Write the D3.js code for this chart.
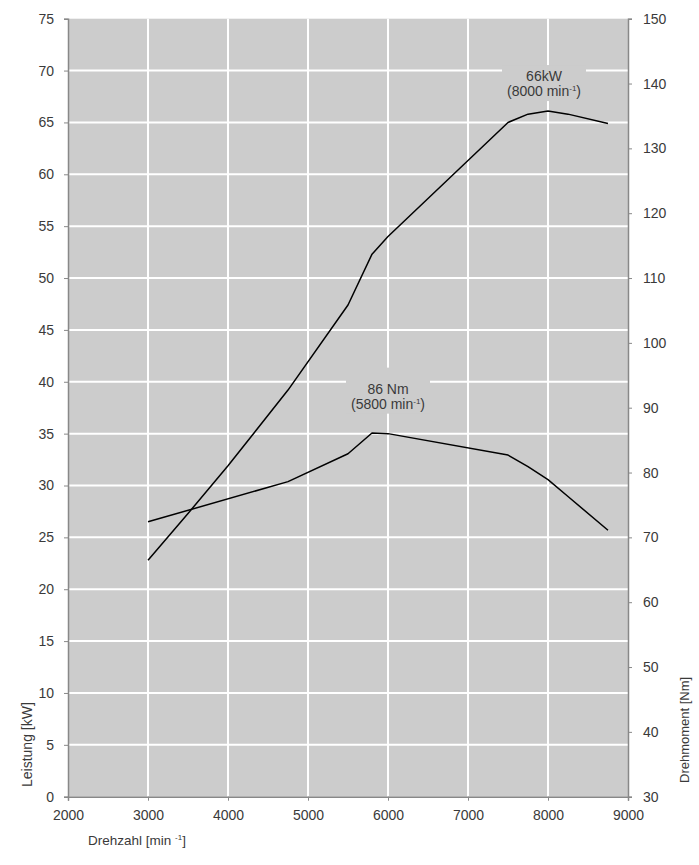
<!DOCTYPE html>
<html>
<head>
<meta charset="utf-8">
<script src="https://cdn.jsdelivr.net/npm/d3@7"></script>
<style>
  html, body { margin: 0; padding: 0; background: #fff; }
  svg text { font-family: "Liberation Sans", Arial, sans-serif; fill: #3a3a3a; }
</style>
</head>
<body>
<svg id="chart" width="699" height="865"></svg>
<script>
// ---- data ----
const powerRpm = [3000, 3500, 4000, 4750, 5500, 5800, 6000, 7500, 7750, 8000, 8250, 8750];
const powerKW  = [22.8, 27.3, 31.9, 39.2, 47.4, 52.3, 54.0, 65.0, 65.8, 66.1, 65.8, 64.9];
const torqueRpm = [3000, 4750, 5500, 5800, 6000, 7500, 7750, 8000, 8250, 8750];
const torqueNm  = [72.4, 78.6, 82.9, 86.1, 86.0, 82.7, 80.9, 78.9, 76.3, 71.1];
const xTicks = [2000, 3000, 4000, 5000, 6000, 7000, 8000, 9000];
const leftTicks = [0, 5, 10, 15, 20, 25, 30, 35, 40, 45, 50, 55, 60, 65, 70, 75];
const rightTicks = [30, 40, 50, 60, 70, 80, 90, 100, 110, 120, 130, 140, 150];
const xLabel = "Drehzahl";
const leftLabel = "Leistung [kW]";
const rightLabel = "Drehmoment [Nm]";
const powerPeak = { rpm: 8000, value: 66, line1: "66kW", rpmText: "8000" };
const torquePeak = { rpm: 5800, value: 86, line1: "86 Nm", rpmText: "5800" };

// ---- layout ----
const L = 68, R = 628, T = 18.7, B = 796.7;
const svg = d3.select("#chart");
const x = d3.scaleLinear().domain([2000, 9000]).range([L, R]);
const yL = d3.scaleLinear().domain([0, 75]).range([B, T]);
const yR = d3.scaleLinear().domain([30, 150]).range([B, T]);

// background
svg.append("rect").attr("x", L).attr("y", T).attr("width", R - L).attr("height", B - T).attr("fill", "#cccccc");

// grid
const grid = svg.append("g").attr("stroke", "#fff").attr("stroke-width", 2);
grid.selectAll("line.v").data(xTicks.filter(d => d > 2000 && d < 9000)).join("line")
  .attr("x1", d => x(d)).attr("x2", d => x(d)).attr("y1", T).attr("y2", B);
grid.selectAll("line.h").data(leftTicks.filter(d => d > 0 && d < 75)).join("line")
  .attr("y1", d => yL(d)).attr("y2", d => yL(d)).attr("x1", L).attr("x2", R);

// annotation backgrounds (cover gridlines)
function annot(peak, yScale, dxC, yTop, h, w) {
  const cx = x(peak.rpm) + dxC;
  const py = yScale(peak.value);
  const g = svg.append("g");
  g.append("rect").attr("x", cx - w / 2).attr("y", py - yTop).attr("width", w).attr("height", h).attr("fill", "#cccccc");
  return { g, cx, py };
}
const a1 = annot(powerPeak, yL, -4, 47, 36, 84);
const a2 = annot(torquePeak, yR, 16, 66, 46, 84);

// lines
const line = d3.line().x(d => x(d[0])).y(d => d[1]);
svg.append("path")
  .datum(powerRpm.map((r, i) => [r, yL(powerKW[i])]))
  .attr("d", line).attr("fill", "none").attr("stroke", "#000").attr("stroke-width", 1.5).attr("stroke-linejoin", "round");
svg.append("path")
  .datum(torqueRpm.map((r, i) => [r, yR(torqueNm[i])]))
  .attr("d", line).attr("fill", "none").attr("stroke", "#000").attr("stroke-width", 1.5).attr("stroke-linejoin", "round");

// annotation texts
function annotText(a, peak, b1, b2) {
  a.g.append("text").attr("x", a.cx).attr("y", a.py - b1).attr("text-anchor", "middle")
    .attr("font-size", 14).text(peak.line1);
  const t = a.g.append("text").attr("x", a.cx).attr("y", a.py - b2).attr("text-anchor", "middle").attr("font-size", 14);
  t.append("tspan").text("(" + peak.rpmText + " min");
  t.append("tspan").attr("font-size", 8).attr("dy", -5).text("-1");
  t.append("tspan").attr("dy", 5).text(")");
}
annotText(a1, powerPeak, 31, 16);
annotText(a2, torquePeak, 39.5, 24.5);

// axes
const axisColor = "#888";
const gx = svg.append("g").attr("transform", `translate(0,${B})`)
  .call(d3.axisBottom(x).tickValues(xTicks).tickFormat(d3.format("d")).tickSize(4).tickPadding(9));
const gl = svg.append("g").attr("transform", `translate(${L},0)`)
  .call(d3.axisLeft(yL).tickValues(leftTicks).tickFormat(d3.format("d")).tickSize(4).tickPadding(10));
const gr = svg.append("g").attr("transform", `translate(${R},0)`)
  .call(d3.axisRight(yR).tickValues(rightTicks).tickFormat(d3.format("d")).tickSize(4).tickPadding(11));
[gx, gl, gr].forEach(g => {
  g.selectAll("path.domain").attr("stroke", axisColor).attr("stroke-width", 1.5);
  g.selectAll(".tick line").attr("stroke", axisColor).attr("stroke-width", 1);
  g.selectAll(".tick text").attr("font-size", 14).attr("fill", "#3a3a3a")
    .style("font-family", '"Liberation Sans", Arial, sans-serif');
});

// axis titles
const xt = svg.append("text").attr("x", 88).attr("y", 845).attr("font-size", 13.5);
xt.append("tspan").text(xLabel + " [min ");
xt.append("tspan").attr("font-size", 8).attr("dy", -5).text("-1");
xt.append("tspan").attr("dy", 5).text("]");

svg.append("text").attr("transform", "translate(32,787) rotate(-90)").attr("font-size", 14).text(leftLabel);
svg.append("text").attr("transform", "translate(689,783) rotate(-90)").attr("font-size", 13).text(rightLabel);
</script>
</body>
</html>
